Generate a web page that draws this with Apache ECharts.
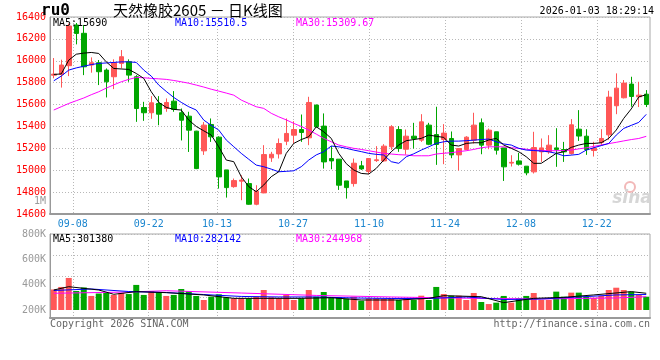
<!DOCTYPE html>
<html><head><meta charset="utf-8">
<script src="https://cdn.jsdelivr.net/npm/echarts@6/dist/echarts.min.js"></script>
<style>html,body{margin:0;padding:0;background:#fff}#c{width:660px;height:360px}</style>
</head><body><div id="c"></div>
<script>
const dates = ['09-03','09-04','09-05','09-08','09-09','09-10','09-11','09-12','09-15','09-16','09-17','09-18','09-19','09-22','09-23','09-24','09-25','09-26','09-29','09-30',
'10-09','10-10','10-13','10-14','10-15','10-16','10-17','10-20','10-21','10-22','10-23','10-24','10-27','10-28','10-29','10-30','10-31',
'11-03','11-04','11-05','11-06','11-07','11-10','11-11','11-12','11-13','11-14','11-17','11-18','11-19','11-20','11-21','11-24','11-25','11-26','11-27','11-28',
'12-01','12-02','12-03','12-04','12-05','12-08','12-09','12-10','12-11','12-12','12-15','12-16','12-17','12-18','12-19','12-22','12-23','12-24','12-25','12-26','12-29','12-30','12-31'];
const xLabelDates = ['09-08','09-22','10-13','10-27','11-10','11-24','12-08','12-22'];

const open = [15868,15875,15955,16327,16251,15961,15982,15915,15854,15976,15991,15854,15573,15525,15610,15564,15631,15525,15494,15357,15177,15418,15302,15003,14850,14900,14878,14689,14793,15113,15149,15265,15320,15372,15296,15595,15403,15107,15101,14902,14878,15040,14988,15088,15085,15214,15372,15192,15311,15275,15412,15326,15281,15290,15140,15189,15275,15433,15229,15351,15204,15065,15085,15037,14985,15168,15168,15204,15189,15153,15375,15311,15180,15253,15323,15589,15662,15787,15671,15695];
const close = [15878,15961,16318,16250,15945,15982,15900,15808,15982,16037,15869,15564,15525,15616,15512,15619,15555,15457,15366,15015,15412,15305,14939,14841,14905,14910,14689,14808,15143,15146,15244,15336,15372,15345,15619,15397,15076,15085,14863,14841,15064,15012,15107,15095,15220,15397,15198,15311,15290,15442,15237,15235,15339,15140,15198,15302,15412,15229,15366,15183,15031,15072,15055,14976,15207,15204,15229,15190,15168,15415,15312,15189,15200,15290,15668,15750,15796,15674,15686,15601];
const low = [15840,15755,15860,16150,15869,15891,15778,15665,15741,15930,15808,15442,15451,15470,15411,15534,15534,15272,15167,15010,15140,15259,14832,14750,14840,14726,14685,14680,14790,15076,15107,15229,15244,15259,15229,15390,15015,15009,14820,14741,14850,15003,14966,15076,15076,15186,15168,15143,15198,15259,15229,15049,15055,15110,14997,15183,15244,15146,15192,15143,14902,15034,15043,14954,14970,15076,15150,15031,15076,15143,15268,15140,15125,15229,15278,15512,15656,15580,15577,15577];
const high = [16025,16010,16340,16345,16327,16031,16007,15930,16013,16098,16013,15869,15625,15677,15677,15656,15723,15564,15534,15360,15440,15473,15310,15003,14924,14954,14924,14863,15229,15168,15290,15473,15448,15509,15671,15600,15519,15220,15101,14902,15107,15085,15107,15220,15238,15412,15403,15372,15433,15512,15433,15580,15421,15354,15198,15311,15525,15473,15381,15351,15204,15137,15159,15037,15351,15290,15320,15384,15259,15467,15549,15375,15260,15375,15726,15885,15824,15854,15808,15732];

const ma5 = [15875,15880,16006,16060,16070,16076,16067,15990,15930,15925,15921,15884,15839,15717,15620,15574,15556,15550,15458,15400,15360,15321,15214,15093,15078,14941,14850,14804,14865,14941,14986,15154,15245,15280,15306,15397,15351,15291,15154,15060,15002,14971,14965,15017,15093,15169,15230,15270,15280,15291,15321,15310,15300,15230,15221,15245,15251,15251,15276,15291,15230,15200,15169,15123,15063,15063,15108,15154,15169,15209,15230,15245,15245,15251,15291,15367,15474,15560,15670,15690];
const ma10 = [15817,15860,15915,15935,15950,15965,15976,15980,15985,15990,15990,15985,15915,15860,15778,15720,15665,15620,15580,15550,15458,15410,15367,15276,15215,15154,15100,15047,15032,15010,14986,14990,14995,15032,15093,15140,15169,15221,15214,15200,15184,15170,15154,15145,15139,15078,15063,15123,15150,15184,15214,15245,15260,15266,15266,15270,15275,15280,15285,15260,15240,15230,15200,15184,15180,15175,15169,15154,15132,15138,15145,15184,15205,15225,15245,15321,15382,15410,15437,15510.5];
const ma30 = [15550,15580,15610,15635,15660,15690,15717,15750,15780,15808,15830,15848,15845,15839,15835,15830,15820,15808,15795,15778,15760,15740,15723,15705,15686,15641,15610,15580,15565,15520,15488,15460,15428,15400,15367,15330,15291,15260,15230,15214,15200,15190,15178,15166,15154,15148,15142,15139,15132,15132,15132,15148,15155,15160,15170,15178,15190,15205,15214,15214,15214,15205,15200,15192,15184,15180,15178,15178,15180,15184,15195,15205,15218,15230,15243,15255,15268,15280,15290,15309.67];

// volume, thousands of lots
const volume = [362,382,453,350,378,311,330,334,319,334,326,398,319,350,337,311,319,366,350,311,279,305,324,300,292,292,292,305,358,300,292,319,279,292,358,305,342,297,300,289,305,273,292,292,287,292,279,292,279,313,279,382,326,313,313,279,334,263,247,258,311,258,292,311,334,279,279,345,305,337,337,305,297,311,358,376,358,345,319,305];
const volMa5 = [[0,358],[2,384],[6,358],[8,324],[11,345],[15,337],[20,319],[24,292],[28,292],[33,292],[37,297],[41,279],[46,279],[50,292],[52,313],[57,305],[60,258],[64,292],[68,300],[72,319],[77,345],[79,332]];
const volMa10 = [[0,354],[5,366],[10,346],[15,338],[20,322],[25,307],[30,303],[35,303],[40,295],[45,291],[50,291],[55,303],[60,283],[65,287],[70,303],[75,319],[79,322]];
const volMa30 = [[0,332],[10,342],[15,352],[25,334],[35,315],[45,303],[55,293],[65,287],[75,295],[79,305]];

const priceLegend = ['MA5:15690','MA10:15510.5','MA30:15309.67'];
const volLegend = ['MA5:301380','MA10:282142','MA30:244968'];

const UP = '#ff5757', DOWN = '#00a600';
const mono = '"DejaVu Sans Mono", monospace';
const labelSet = new Set(xLabelDates);
const showIdx = (i) => labelSet.has(dates[i]);
const dotted = {color:'#b8b8b8', type:[1,2], width:1};

const candleData = dates.map((d,i) => [open[i], close[i], low[i], high[i]]);
const volData = volume.map((v,i) => ({value:v, itemStyle:{color: close[i] >= open[i] ? UP : DOWN}}));

function txt(x, y, text, fill, font, align) {
  return {type:'text', x:x, y:y, silent:true, z:100,
    style:{text:text, fill:fill, font:font, textAlign:align||'left', textVerticalAlign:'middle', align:align||'left', verticalAlign:'middle'}};
}
const legendX = [53,175,296];
const legendC = ['#000000','#0000ff','#ff00ff'];

const chart = echarts.init(document.getElementById('c'));
chart.setOption({
  animation:false,
  backgroundColor:'#ffffff',
  grid:[
    {left:50, right:10, top:17, height:197, show:true, borderColor:'#a8a8a8', borderWidth:1},
    {left:50, right:10, top:234, height:76},
    {left:50, right:10, top:234, height:84, show:true, borderColor:'#a8a8a8', borderWidth:1}
  ],
  xAxis:[
    {type:'category', gridIndex:0, data:dates, boundaryGap:true,
     axisLine:{show:true, lineStyle:{color:'#999', width:2}}, axisTick:{show:false},
     axisLabel:{show:false}, splitLine:{show:false}},
    {type:'category', gridIndex:1, data:dates, boundaryGap:true, show:false},
    {type:'category', gridIndex:2, data:dates, boundaryGap:false,
     axisLine:{show:true, lineStyle:{color:'#999', width:2}}, axisTick:{show:false}, axisLabel:{show:false},
     splitLine:{show:true, interval:showIdx, lineStyle:dotted}},
    {type:'category', gridIndex:0, data:dates, boundaryGap:false, position:'bottom',
     axisLine:{show:false}, axisTick:{show:false},
     axisLabel:{interval:showIdx, color:'#1c86cf', fontFamily:mono, fontSize:10, margin:5},
     splitLine:{show:true, interval:showIdx, lineStyle:dotted}}
  ],
  yAxis:[
    {type:'value', gridIndex:0, min:14600, max:16400, interval:200,
     axisLine:{show:true, lineStyle:{color:'#999', width:1}}, axisTick:{show:false},
     axisLabel:{color:'#ff0000', fontFamily:mono, fontSize:10, margin:4, formatter:(v)=>String(v)},
     splitLine:{show:true, lineStyle:dotted}},
    {type:'value', gridIndex:1, min:200, max:800, interval:200,
     axisLine:{show:false}, axisTick:{show:false}, splitLine:{show:false},
     axisLabel:{formatter:(v)=>v+'K', color:'#9a9a9a', fontFamily:mono, fontSize:10, margin:4}},
    {type:'value', gridIndex:2, min:0, max:4, interval:1,
     axisLine:{show:true, lineStyle:{color:'#999', width:1}}, axisTick:{show:false}, axisLabel:{show:false},
     splitLine:{show:true, lineStyle:dotted}}
  ],
  series:[
    {type:'candlestick', xAxisIndex:0, yAxisIndex:0, data:candleData, barWidth:5,
     itemStyle:{color:UP, color0:DOWN, borderColor:UP, borderColor0:DOWN, borderWidth:1}},
    {type:'line', xAxisIndex:0, yAxisIndex:0, data:ma30, symbol:'none', lineStyle:{color:'#ff00ff', width:1}},
    {type:'line', xAxisIndex:0, yAxisIndex:0, data:ma10, symbol:'none', lineStyle:{color:'#0000ff', width:1}},
    {type:'line', xAxisIndex:0, yAxisIndex:0, data:ma5, symbol:'none', lineStyle:{color:'#000000', width:1}},
    {type:'bar', xAxisIndex:1, yAxisIndex:1, data:volData, barWidth:6, clip:true},
    {type:'line', xAxisIndex:1, yAxisIndex:1, data:volMa30, symbol:'none', lineStyle:{color:'#ff00ff', width:1}},
    {type:'line', xAxisIndex:1, yAxisIndex:1, data:volMa10, symbol:'none', lineStyle:{color:'#0000ff', width:1}},
    {type:'line', xAxisIndex:1, yAxisIndex:1, data:volMa5, symbol:'none', lineStyle:{color:'#000000', width:1}}
  ],
  graphic:[
    txt(41, 11, 'ru0', '#000', 'bold 16px "DejaVu Sans Mono"'),
    txt(113, 10, '天然橡胶2605 － 日K线图', '#000', '15px "Noto Sans CJK SC"'),
    txt(654, 11, '2026-01-03 18:29:14', '#000', '10px "DejaVu Sans Mono"', 'right'),
    txt(legendX[0], 23, priceLegend[0], legendC[0], '10px "DejaVu Sans Mono"'),
    txt(legendX[1], 23, priceLegend[1], legendC[1], '10px "DejaVu Sans Mono"'),
    txt(legendX[2], 23, priceLegend[2], legendC[2], '10px "DejaVu Sans Mono"'),
    txt(legendX[0], 239, volLegend[0], legendC[0], '10px "DejaVu Sans Mono"'),
    txt(legendX[1], 239, volLegend[1], legendC[1], '10px "DejaVu Sans Mono"'),
    txt(legendX[2], 239, volLegend[2], legendC[2], '10px "DejaVu Sans Mono"'),
    txt(46, 201, '1M', '#9a9a9a', '10px "DejaVu Sans Mono"', 'right'),
    txt(50, 324, 'Copyright 2026 SINA.COM', '#666', '10px "DejaVu Sans Mono"'),
    txt(650, 324, 'http://finance.sina.com.cn', '#666', '10px "DejaVu Sans Mono"', 'right'),
    {type:'circle', silent:true, z:99, shape:{cx:630, cy:187, r:5}, style:{fill:'none', stroke:'#f2b8b8', lineWidth:2}},
    txt(632, 199, 'sina', '#d6d6d6', 'italic bold 17px "DejaVu Sans"', 'center')
  ]
});
</script></body></html>
